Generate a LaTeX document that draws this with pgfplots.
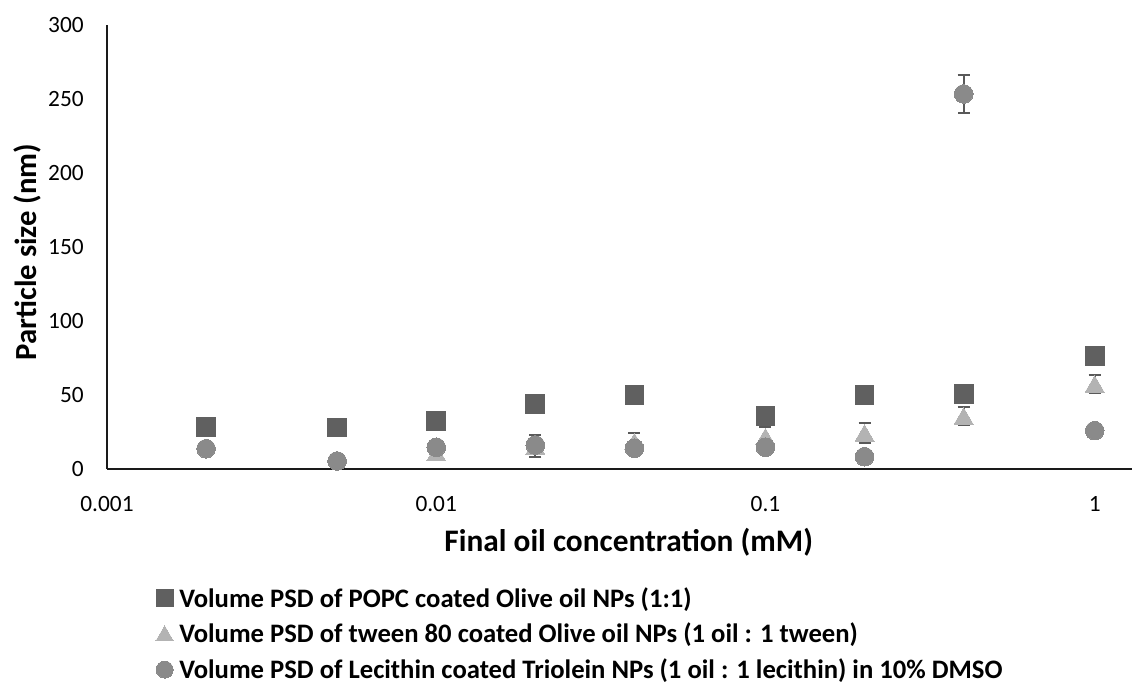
\documentclass[border=0pt]{standalone}
\usepackage{pgfplots}
\pgfplotsset{compat=1.18}
\usepackage{fontspec}
\setmainfont{Carlito}
\definecolor{sqc}{HTML}{606060}
\definecolor{trc}{HTML}{B3B3B3}
\definecolor{cic}{HTML}{8A8A8A}
\definecolor{erc}{HTML}{595959}
\definecolor{axc}{HTML}{1A1A1A}
\pgfplotsset{mylegend/.style={legend image code/.code={\draw[##1, mark size=#1] plot coordinates {(6.4pt,0.33em)};}}}
\begin{document}
\begin{tikzpicture}
\useasboundingbox (-80.25pt,-161.25pt) rectangle (768.75pt,351.75pt);
\begin{axis}[
  at={(0pt,0pt)}, anchor=south west,
  scale only axis, width=768.75pt, height=333pt,
  xmode=log, xmin=0.001, xmax=1.298, ymin=0, ymax=300,
  axis x line=bottom, axis y line=left,
  axis line style={-, draw=axc, line width=0.9pt},
  xtick={0.001,0.01,0.1,1}, xticklabels={0.001,0.01,0.1,1},
  ytick={0,50,...,300}, yticklabels={0,50,100,150,200,250,300},
  minor xtick={},
  major tick length=0pt, minor tick length=0pt,
  tick style={draw=none},
  xticklabel style={anchor=north, inner sep=0pt, yshift=-20.3pt, font=\fontsize{17.5}{20}\selectfont},
  yticklabel style={anchor=east, inner sep=0pt, xshift=-17.25pt, font=\fontsize{17.5}{20}\selectfont},
  xlabel={Final oil concentration (mM)},
  ylabel={Particle size (nm)},
  xlabel style={at={(0.509,-0.164)}, anchor=center, inner sep=0pt, font=\bfseries\fontsize{23.5}{28}\selectfont},
  ylabel style={at={(-0.078,0.489)}, anchor=center, inner sep=0pt, font=\bfseries\fontsize{23}{28}\selectfont},
  clip=false,
  legend style={at={(0.0478,-0.271)}, anchor=north west, draw=none, fill=none,
    inner sep=0pt, outer sep=0pt,
    font=\bfseries\fontsize{20}{24}\selectfont,
    nodes={inner sep=0pt, text height=10.5pt, text depth=3pt},
    row sep=10.9pt, column sep=4.5pt},
  legend cell align=left,
]
% squares
\addplot[color=sqc, only marks, mark=square*, mark size=7pt, mark options={fill=sqc, draw=sqc, line width=0pt}, mylegend=6.4pt]
  table[x=x, y=y] {
x y
0.002 28.5
0.005 28
0.01 32.6
0.02 43.7
0.04 50
0.1 35.6
0.2 49.8
0.4 50.5
1 76.4
};
\addlegendentry{Volume PSD of POPC coated Olive oil NPs (1:1)}
% triangle error bars
\addplot[color=erc, only marks, mark=none, forget plot,
  error bars/.cd, y dir=both, y explicit,
  error bar style={draw=erc, line width=1.4pt},
  error mark options={rotate=90, mark size=4.5pt, draw=erc, line width=1.4pt}]
  table[x=x, y=y, y error=e] {
x y e
0.01 11 3
0.02 15.5 7.5
0.04 18.5 6
0.1 21.8 6.4
0.2 24.3 7
0.4 35.8 6
1 57.4 6.3
};
% triangles
\addplot[color=trc, only marks, mark=triangle*, mark size=8.2pt, mark options={fill=trc, draw=trc, line width=0pt, yshift=-2pt}, mylegend=7.5pt]
  table[x=x, y=y] {
x y
0.01 11
0.02 15.5
0.04 18.5
0.1 21.8
0.2 24.3
0.4 35.8
1 57.4
};
\addlegendentry{Volume PSD of tween 80 coated Olive oil NPs (1 oil : 1 tween)}
% circle error bars
\addplot[color=erc, only marks, mark=none, forget plot,
  error bars/.cd, y dir=both, y explicit,
  error bar style={draw=erc, line width=1.4pt},
  error mark options={rotate=90, mark size=4.5pt, draw=erc, line width=1.4pt}]
  table[x=x, y=y, y error=e] {
x y e
0.4 253.4 12.7
};
% circles
\addplot[color=cic, only marks, mark=*, mark size=7pt, mark options={fill=cic, draw=cic, line width=0pt}, mylegend=6.4pt]
  table[x=x, y=y] {
x y
0.002 13.7
0.005 5.4
0.01 14.7
0.02 16.2
0.04 14
0.1 14.7
0.2 8.3
0.4 253.4
1 25.9
};
\addlegendentry{Volume PSD of Lecithin coated Triolein NPs (1 oil : 1 lecithin) in 10\% DMSO}
\end{axis}
\end{tikzpicture}
\end{document}
